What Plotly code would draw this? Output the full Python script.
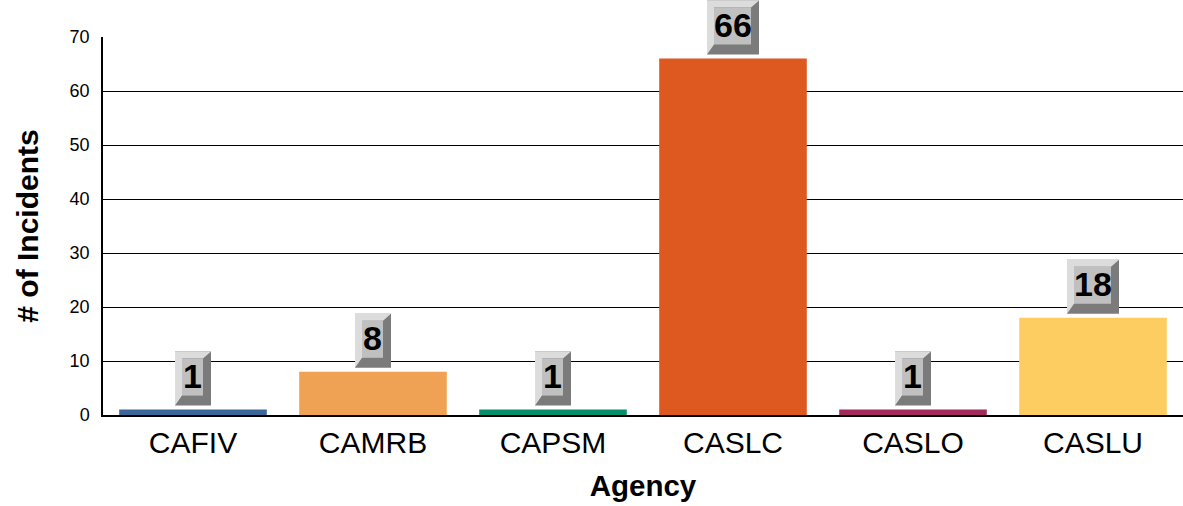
import plotly.graph_objects as go

agencies = ["CAFIV", "CAMRB", "CAPSM", "CASLC", "CASLO", "CASLU"]
incidents = [1, 8, 1, 66, 1, 18]
bar_colors = ["#3a6699", "#f0a254", "#05906b", "#dd5920", "#a2295c", "#fdcd62"]
y_ticks = [0, 10, 20, 30, 40, 50, 60, 70]
y_range = [0, 70]

fig = go.Figure()
fig.add_trace(go.Bar(
    x=agencies, y=incidents, marker=dict(color=bar_colors, line=dict(width=0)),
    hoverinfo="x+y", showlegend=False,
))

shapes = []
annotations = []
n = len(agencies)
for i, (cat, val) in enumerate(zip(agencies, incidents)):
    label = str(val)
    w = 20 + 16 * len(label)
    L, R = -w / 2, w / 2
    B, T = 4, 58
    iL, iR, iB, iT = L + 7, R - 8, B + 10, T - 7
    # anchored in axis-domain units so the beveled box is never clipped at the plot top
    x_dom = (i + 0.5) / n
    y_dom = (val - y_range[0]) / (y_range[1] - y_range[0])
    common = dict(xref="x domain", yref="y domain", xsizemode="pixel", ysizemode="pixel",
                  xanchor=x_dom, yanchor=y_dom, line=dict(width=0), layer="above")
    shapes.append(dict(type="rect", x0=L, x1=R, y0=B, y1=T, fillcolor="#7b7b7b", **common))
    shapes.append(dict(type="path",
                       path=f"M{L},{B} L{L},{T} L{R},{T} L{iR},{iT} L{iL},{iT} L{iL},{iB} Z",
                       fillcolor="#dcdcdc", **common))
    shapes.append(dict(type="rect", x0=iL, x1=iR, y0=iB, y1=iT, fillcolor="#c0c0c0", **common))
    annotations.append(dict(x=cat, y=val, xref="x", yref="y", text=f"<b>{label}</b>",
                            showarrow=False, yanchor="middle", xanchor="center",
                            yshift=(iB + iT) / 2 + 1, xshift=(iL + iR) / 2,
                            font=dict(family="Arial, Liberation Sans", size=34, color="black")))

fig.update_layout(
    width=1183, height=506,
    margin=dict(l=103, r=0, t=37, b=91),
    paper_bgcolor="white", plot_bgcolor="white",
    bargap=0.18,
    shapes=shapes, annotations=annotations,
    font=dict(family="Arial, Liberation Sans", color="black"),
    xaxis=dict(
        title=dict(text="<b>Agency</b>", font=dict(size=29.5), standoff=18),
        tickfont=dict(size=30), showline=True, linecolor="black", linewidth=1.5,
        showgrid=False, ticks="", fixedrange=True, automargin=False,
    ),
    yaxis=dict(
        title=dict(text="<b># of Incidents</b>", font=dict(size=30), standoff=22),
        range=y_range, tickvals=y_ticks, tickfont=dict(size=18),
        showline=True, linecolor="black", linewidth=1.5,
        showgrid=True, gridcolor="black", gridwidth=1, zeroline=False,
        ticks="", ticklabelstandoff=8, fixedrange=True, automargin=False,
    ),
)

fig.write_html(
    "out.html",
    config={"displayModeBar": False},
    post_script="document.body.style.margin='0';document.body.style.overflow='hidden';",
)
